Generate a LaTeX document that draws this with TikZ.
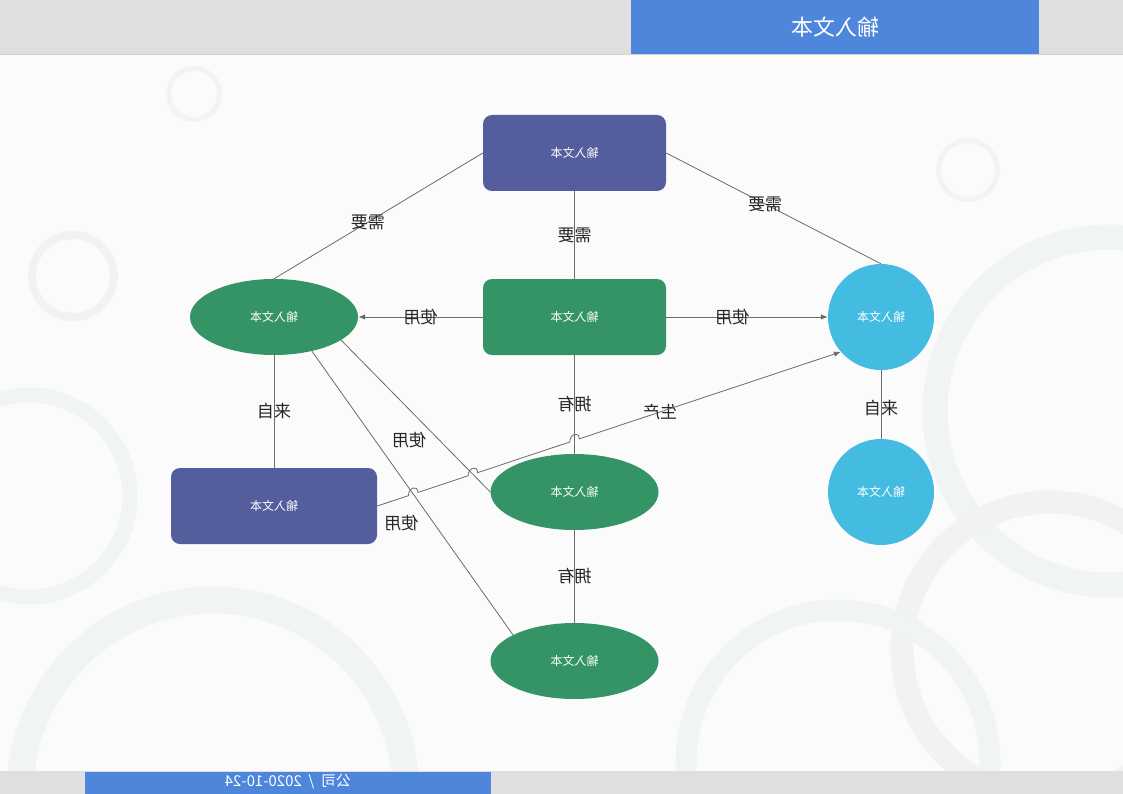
\documentclass[tikz,border=0pt]{standalone}
\usepackage{fontspec}
\setmainfont{Noto Sans CJK SC}
\usepackage{graphicx}
\usetikzlibrary{shapes.geometric,calc,intersections,positioning,arrows.meta}

\definecolor{bgwhite}{HTML}{FBFBFB}
\definecolor{bargray}{HTML}{DFDFDF}
\definecolor{barline}{HTML}{D2D2D2}
\definecolor{barblue}{HTML}{4D86DB}
\definecolor{boxpurple}{HTML}{545E9C}
\definecolor{boxgreen}{HTML}{349465}
\definecolor{boxcyan}{HTML}{44BBE0}
\definecolor{ringblue}{HTML}{F0F4F5}
\definecolor{ringgray}{HTML}{F2F2F2}
\definecolor{linkgray}{HTML}{6B6B6B}

\newcommand{\mirror}[1]{\reflectbox{#1}}

\tikzset{
  base/.style={text=white, font=\fontsize{12}{14}\selectfont},
  rbox/.style={base, rectangle, rounded corners=9pt, minimum width=183pt, minimum height=76pt},
  oval/.style={base, ellipse, minimum width=168pt, minimum height=76pt, fill=boxgreen},
  disc/.style={base, circle, minimum size=106pt, fill=boxcyan},
  link/.style={draw=linkgray, line width=0.8pt},
  tip/.style={-{Latex[length=7pt,width=5.5pt]}},
  tag/.style={text=black!85, font=\fontsize{17}{19}\selectfont, inner sep=1pt}
}

\begin{document}
\begin{tikzpicture}[x=1pt,y=-1pt]
            \clip (0,0) rectangle (1123,794);
            \fill[bgwhite] (0,0) rectangle (1123,794);
            % background rings
            \draw[ringblue, line width=5pt] (194,94) circle (25.5pt);
            \draw[ringblue, line width=5pt] (968,170) circle (29.5pt);
            \draw[ringgray, line width=8pt] (73,276) circle (41pt);
            \draw[ringblue, line width=15pt] (29,496) circle (101pt);
            \draw[ringblue, line width=27pt] (213,793) circle (193pt);
            \draw[ringblue, line width=25pt] (1109,411) circle (174pt);
            \draw[ringgray, line width=23pt] (1050,650) circle (148pt);
            \draw[ringblue, line width=21pt] (838,762) circle (152pt);
            % header and footer
            \fill[bargray] (0,0) rectangle (1123,54);
            \draw[barline] (0,54) -- (1123,54);
            \fill[barblue] (631,0) rectangle (1039,54);
            \node[text=white, font=\fontsize{22}{24}\selectfont] at (835,27) (title) {\mirror{输入文本}};
            \fill[bargray] (0,771) rectangle (1123,794);
            \fill[barblue] (85,772) rectangle (491,794);
            \node[text=white, font=\fontsize{15}{17}\selectfont] at (288,782) (foot) {\mirror{公司\ \ /\ \ 2020-10-24}};
            % nodes
            \node[rbox, fill=boxpurple] at (574.5,153) (topbox) {\mirror{输入文本}};
            \node[rbox, fill=boxgreen] at (574.5,317) (midbox) {\mirror{输入文本}};
            \node[oval] at (274,317) (leftoval) {\mirror{输入文本}};
            \node[disc] at (881,317) (rightdisc) {\mirror{输入文本}};
            \node[disc] at (881,492) (lowdisc) {\mirror{输入文本}};
            \node[rbox, fill=boxpurple, minimum width=206pt] at (274,506) (leftbox) {\mirror{输入文本}};
            \node[oval] at (574.5,492) (midoval) {\mirror{输入文本}};
            \node[oval] at (574.5,661) (lowoval) {\mirror{输入文本}};
            % links
            \draw[link] (topbox.west) -- node[tag, pos=0.55] {\mirror{需要}} (leftoval.north);
            \draw[link] (topbox) -- node[tag] {\mirror{需要}} (midbox);
            \draw[link] (topbox.east) -- node[tag, pos=0.46] {\mirror{需要}} (rightdisc.north);
            \draw[link, tip] (midbox) -- node[tag] {\mirror{使用}} (leftoval);
            \draw[link, tip] (midbox) -- node[tag, pos=0.41] {\mirror{使用}} (rightdisc);
            \draw[link, name path=own] (midbox) -- node[tag] {\mirror{拥有}} (midoval);
            \draw[link] (midoval) -- node[tag] {\mirror{拥有}} (lowoval);
            \draw[link] (leftoval) -- node[tag] {\mirror{来自}} (leftbox);
            \draw[link] (rightdisc) -- node[tag, pos=0.55] {\mirror{来自}} (lowdisc);
            \draw[link, name path=useg] (leftoval.-19) -- node[tag, pos=0.66, left=12pt] {\mirror{使用}} (midoval.west);
            \draw[link, name path=useh] (leftoval.-42) -- node[tag, pos=0.606, left=14pt] {\mirror{使用}} (lowoval.157);
            % produce link with jumps
            \path[name path=prod] (leftbox.east) -- node[tag, pos=0.61] {\mirror{生产}} (rightdisc.221);
            \path[name intersections={of=prod and useh, by=j1}];
            \path[name intersections={of=prod and useg, by=j2}];
            \path[name intersections={of=prod and own, by=j3}];
            \draw[link, tip] (leftbox.east)
              -- ($(j1)!5pt!(leftbox.east)$) .. controls +(0,-8) and +(0,-8) .. ($(j1)!5pt!(rightdisc.221)$)
              -- ($(j2)!5pt!(leftbox.east)$) .. controls +(0,-8) and +(0,-8) .. ($(j2)!5pt!(rightdisc.221)$)
              -- ($(j3)!5pt!(leftbox.east)$) .. controls +(0,-8) and +(0,-8) .. ($(j3)!5pt!(rightdisc.221)$)
              -- (rightdisc.221);
        \end{tikzpicture}
\end{document}
